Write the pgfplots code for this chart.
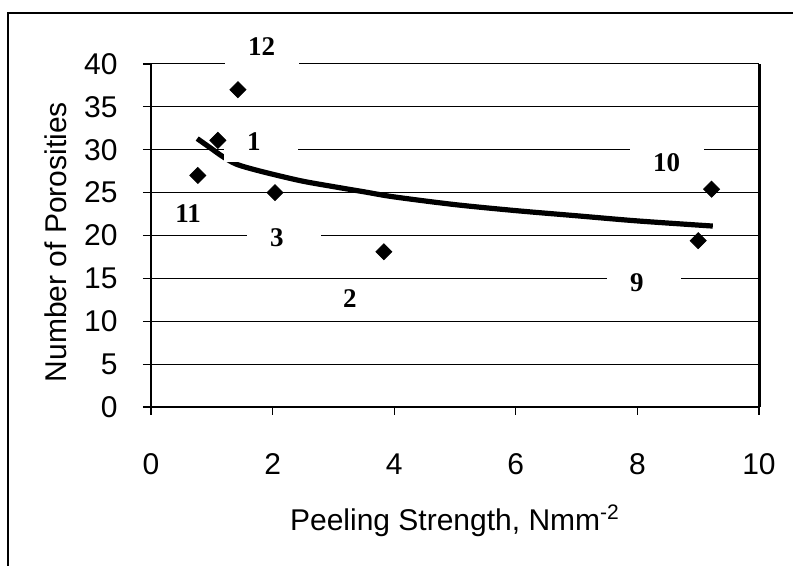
\documentclass[border=0pt]{standalone}
\usepackage{fontspec}
\setmainfont{Liberation Sans}
\newfontfamily\timesfont{Liberation Serif}
\usepackage{pgfplots}
\pgfplotsset{compat=1.18}

% data points (peeling strength, porosities)
\pgfplotstableread{
x     y
0.77  27.0
1.10  31.1
1.43  37.0
2.04  25.0
3.83  18.1
9.00  19.4
9.22  25.4
}\pointdata

% trend curve
\pgfplotstableread{
x     y
0.76  31.3
1.00  30.1
1.18  29.2
1.41  28.3
1.80  27.5
2.45  26.4
3.00  25.7
3.50  25.1
4.00  24.5
5.00  23.6
6.00  22.9
7.00  22.3
8.00  21.7
9.24  21.1
}\trenddata

\tikzset{lbl/.style={fill=white, inner sep=0pt, minimum height=20pt,
  text width=37pt, align=left, font=\timesfont\bfseries\fontsize{13.5}{15}\selectfont}}

\begin{document}
\begin{tikzpicture}
\useasboundingbox (0,0) rectangle (396.5pt,283pt);
\draw[line width=1pt] (4pt,0) -- (4pt,276.5pt) -- (396.5pt,276.5pt);
\begin{axis}[
  at={(75.5pt,79.5pt)}, anchor=south west,
  scale only axis, width=304pt, height=171.5pt,
  xmin=0, xmax=10, ymin=0, ymax=40,
  xtick={0,2,...,10}, ytick={0,5,...,40},
  axis x line*=bottom, axis y line*=left,
  axis line style={-, line width=1pt},
  tick align=outside, major tick length=4pt,
  tick style={black, line width=0.6pt},
  ymajorgrids, grid style={black, line width=0.5pt},
  clip=false,
  /pgf/number format/assume math mode=true,
  tick label style={font=\fontsize{15}{18}\selectfont},
  yticklabel style={anchor=east, inner sep=0pt, xshift=-12.5pt},
  xticklabel style={anchor=north, inner sep=0pt, yshift=-19pt},
  xlabel={Peeling Strength, Nmm\textsuperscript{-2}},
  ylabel={Number of Porosities},
  every axis x label/.style={at={(rel axis cs:0.5,0)}, yshift=-57pt, anchor=center,
    font=\fontsize{15}{18}\selectfont},
  every axis y label/.style={at={(rel axis cs:0,0.481)}, xshift=-47.5pt, anchor=center,
    rotate=90, font=\fontsize{15}{18}\selectfont},
]
\addplot[black, line width=2.6pt, smooth, no marks] table {\trenddata};
\addplot[only marks, mark=square*, mark size=2.83pt, mark options={rotate=45, fill=black}] table {\pointdata};

\node[lbl] at (axis cs:1.826,41.98) {\hspace*{11.5pt}12};
\node[lbl] at (axis cs:1.81,30.9) {\hspace*{11.5pt}1};
\node[lbl] at (axis cs:0.63,22.6) {\hspace*{11.5pt}11};
\node[lbl] at (axis cs:2.19,19.7) {\hspace*{11.5pt}3};
\node[lbl] at (axis cs:3.39,12.6) {\hspace*{11.5pt}2};
\node[lbl] at (axis cs:8.11,14.46) {\hspace*{11.5pt}9};
\node[lbl] at (axis cs:8.49,28.45) {\hspace*{11.5pt}10};

\draw[line width=1pt] (rel axis cs:0,0) -- (rel axis cs:0,1);
\draw[line width=1.5pt] (rel axis cs:1,0) -- (rel axis cs:1,1);
\end{axis}
\end{tikzpicture}
\end{document}
